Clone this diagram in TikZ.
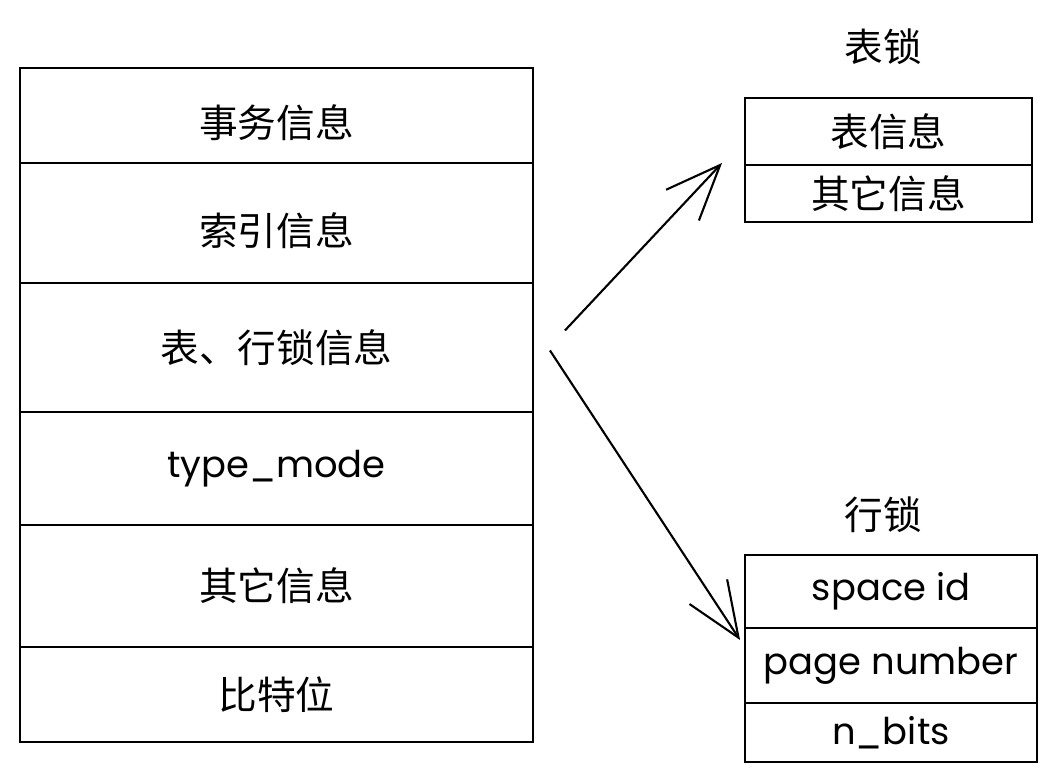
\documentclass[tikz,border=0pt]{standalone}
\usepackage{fontspec}
\setmainfont{Poppins}
\newfontfamily\cjk{Noto Sans CJK SC}
\usepackage{tikz}
\usetikzlibrary{arrows.meta,positioning,calc}

\begin{document}
\begin{tikzpicture}[x=0.02cm, y=-0.02cm,
  cell/.style={draw, line width=1.4pt, outer sep=0pt, inner sep=0pt, align=center, font=\fontsize{21}{25}\selectfont},
  title/.style={font=\cjk\fontsize{22}{26}\selectfont, inner sep=0pt},
  zh/.style={font=\cjk\fontsize{22}{26}\selectfont},
  arr/.style={-{Straight Barb[length=1.1cm, width=0.9cm, line width=1.2pt]}, line width=1.2pt}]
\useasboundingbox (0,0) rectangle (1060,780);
% left record
\node[cell, zh, minimum width=10.26cm, minimum height=1.9cm, text height=0.95cm] (txinfo) at (276.5,115.5) {事务信息};
\node[cell, zh, minimum width=10.26cm, minimum height=2.4cm, below=0pt of txinfo, text height=0.95cm] (idxinfo) {索引信息};
\node[cell, zh, minimum width=10.26cm, minimum height=2.58cm, below=0pt of idxinfo] (lockinfo) {表、行锁信息};
\node[cell, minimum width=10.26cm, minimum height=2.26cm, below=0pt of lockinfo] (typemode) {type\_mode};
\node[cell, zh, minimum width=10.26cm, minimum height=2.44cm, below=0pt of typemode] (otherinfo) {其它信息};
\node[cell, zh, minimum width=10.26cm, minimum height=1.9cm, below=0pt of otherinfo] (bits) {比特位};
% table lock
\node[title] (tbltitle) at (883,47) {表锁};
\node[cell, zh, minimum width=5.74cm, minimum height=1.34cm] (tblinfo) at (888.5,131.5) {表信息};
\node[cell, zh, minimum width=5.74cm, minimum height=1.14cm, below=0pt of tblinfo] (tblother) {其它信息};
% row lock
\node[title] (rowtitle) at (883,515) {行锁};
\node[cell, minimum width=5.84cm, minimum height=1.46cm] (spaceid) at (891,591.5) {space id};
\node[cell, minimum width=5.84cm, minimum height=1.5cm, below=0pt of spaceid] (pagenum) {page number};
\node[cell, minimum width=5.84cm, minimum height=1.18cm, below=0pt of pagenum] (nbits) {n\_bits};
\draw[arr] ($(lockinfo.east)+(32,-17)$) -- ($(tblinfo.south west)+(-23,-2)$);
\draw[arr] ($(lockinfo.east)+(17,3)$) -- ($(pagenum.north west)+(-5,12)$);
\end{tikzpicture}
\end{document}
